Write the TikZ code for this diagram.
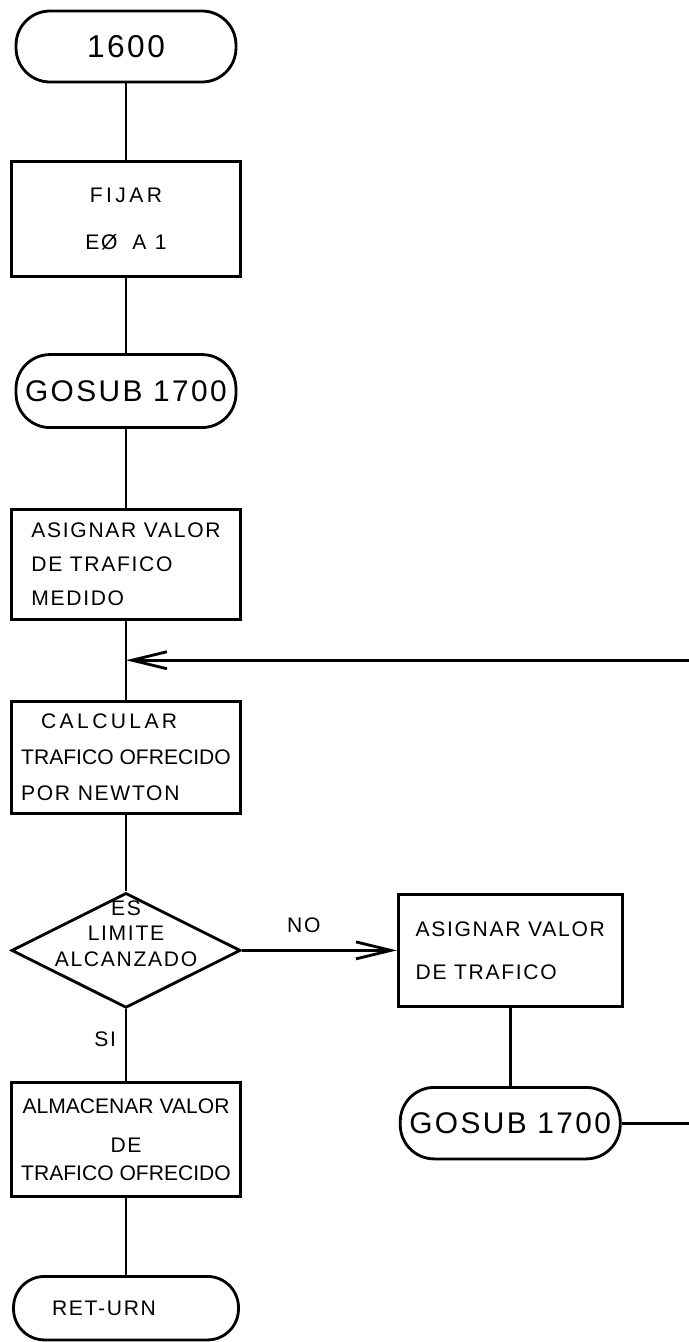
\documentclass[tikz,border=0pt]{standalone}
\usepackage{fontspec}
\newfontfamily\lettering[LetterSpace=8]{Liberation Sans}
\newcommand{\wide}[1]{{\addfontfeature{LetterSpace=16}#1}}
\newcommand{\tight}[1]{{\addfontfeature{LetterSpace=0}#1}}
\usepackage{tikz}
\usetikzlibrary{positioning,shapes.geometric,arrows.meta,calc}

\begin{document}
\begin{tikzpicture}[
  x=0.02cm, y=-0.02cm,
  font=\lettering\fontsize{12}{14.5}\selectfont,
  >={Straight Barb[length=7mm,width=3.4mm]},
  line width=1.6pt,
  node distance=15.5mm,
  term/.style={draw, rounded corners=6.8mm, minimum width=44mm, minimum height=14.5mm, inner sep=1pt, font=\lettering\fontsize{17}{20}\selectfont},
  proc/.style={draw, minimum width=45.8mm, minimum height=22.6mm, inner sep=3pt},
  cond/.style={draw, diamond, minimum width=45.8mm, minimum height=23mm, inner sep=0pt},
  arr/.style={->},
  lbl/.style={inner sep=2pt}
]
\useasboundingbox (0,0) rectangle (689,1342);

% ---------------- main column ----------------
\node[term, minimum height=14.2mm, font=\lettering\fontsize{18}{22}\selectfont] (start) at (126,46.5) {1600};
\node[proc, below=15.4mm of start, minimum height=23mm, align=center] (fijar) {\wide{FIJAR}\\[12pt]EØ\hspace{0.7em}A\hspace{0.4em}1};
\node[term, below=15mm of fijar, minimum height=14.6mm] (gosubA) {GOSUB 1700};
\node[proc, below=15.8mm of gosubA, minimum height=22mm, align=left] (medido) {ASIGNAR VALOR\\[5pt]DE TRAFICO\\[5pt]MEDIDO};
\node[proc, below=15.8mm of medido, minimum height=22.4mm, align=left] (calc) {\hspace{4mm}\wide{CALCULAR}\\[6pt]\tight{TRAFICO OFRECIDO}\\[6pt]POR NEWTON};
\node[cond, below=15.4mm of calc, label={[lbl, align=center, yshift=3.4mm]center:ES\\LIMITE\\ALCANZADO}] (limite) {};
\node[proc, below=14.4mm of limite, minimum height=22.8mm, align=center] (almac) {\tight{ALMACENAR VALOR}\\[8pt]DE\\[1.5pt]\tight{TRAFICO OFRECIDO}};
\node[term, below=15.4mm of almac, minimum width=45mm, minimum height=12.7mm, rounded corners=6.2mm, font=\lettering\fontsize{12}{14.5}\selectfont] (ret) {\raisebox{-2mm}{RET-URN}\kern 8.8mm};

\draw (start) -- (fijar);
\draw (fijar) -- (gosubA);
\draw (gosubA) -- (medido);
\draw (medido) -- (calc);
\draw (calc) -- (limite);
\draw (limite) -- node[lbl, left=1mm, pos=0.42]{SI} (almac);
\draw (almac) -- (ret);

% ---------------- NO branch ----------------
\node[proc, right=31mm of limite, minimum width=44.8mm, minimum height=22.5mm, align=left] (asigB) {ASIGNAR VALOR\\[10pt]DE TRAFICO};
\node[term, below=15.6mm of asigB, minimum height=14.3mm] (gosubB) {GOSUB 1700};
\draw[arr] (limite) -- node[lbl, above=2.5mm, pos=0.4]{NO} (asigB);
\draw (asigB) -- (gosubB);

% loop back (runs off the right edge)
\coordinate (join) at ($(medido.south)!0.5!(calc.north)$);
\coordinate (rim) at (694,0);
\draw[arr] (gosubB.east) -- (gosubB.east -| rim) |- (join);
\end{tikzpicture}
\end{document}
